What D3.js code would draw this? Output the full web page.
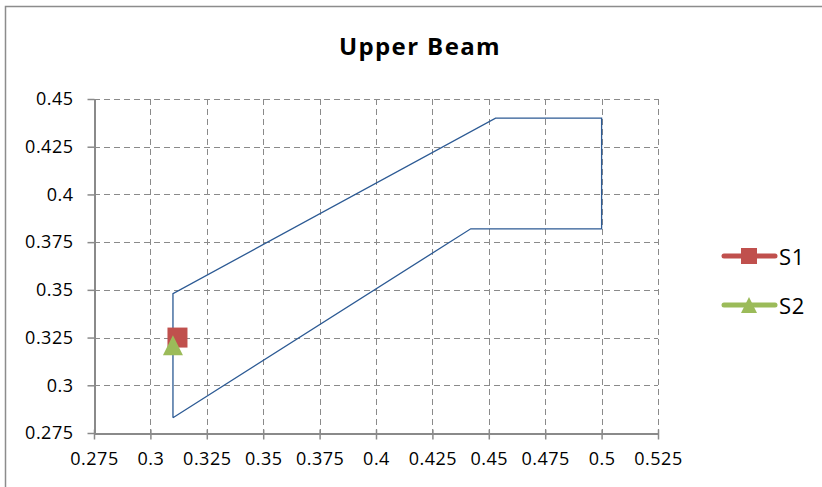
<!DOCTYPE html>
<html><head><meta charset="utf-8">
<script src="https://cdn.jsdelivr.net/npm/d3@7"></script>
<style>html,body{margin:0;padding:0;background:#fff;}svg{display:block;}</style>
</head><body>
<script>
const title = "Upper Beam";
const xTicks = [0.275,0.3,0.325,0.35,0.375,0.4,0.425,0.45,0.475,0.5,0.525];
const yTicks = [0.275,0.3,0.325,0.35,0.375,0.4,0.425,0.45];
// outline of the beam section
const outlineX = [0.31,0.31,0.453,0.5,0.5,0.442,0.31];
const outlineY = [0.283,0.348,0.44,0.44,0.382,0.382,0.283];
const seriesNames = ["S1","S2"];
const seriesX = [[0.312],[0.31]];
const seriesY = [[0.325],[0.321]];
const seriesColors = ["#C0504D","#9BBB59"];
const seriesShapes = ["square","triangle"];

const W=822,H=487;
const svg=d3.select("body").append("svg").attr("width",W).attr("height",H);
svg.append("rect").attr("width",W).attr("height",H).attr("fill","#fff");
// chart frame
svg.append("path").attr("d","M5.5,"+(H+5)+"V6.5H"+(W+5)).attr("fill","none").attr("stroke","#8c8c8c").attr("stroke-width",1.5);

const x=d3.scaleLinear().domain([0.275,0.525]).range([94,658]);
const y=d3.scaleLinear().domain([0.275,0.45]).range([433,99]);
const font="'Open Sans', 'DejaVu Sans', sans-serif";

svg.append("text").attr("x",420).attr("y",55).attr("text-anchor","middle")
  .attr("font-family",font).attr("font-weight","bold").attr("font-size",24)
  .attr("letter-spacing",1.4).text(title);

// gridlines
const grid=svg.append("g").attr("stroke","#8a8a8a").attr("stroke-width",1).attr("stroke-dasharray","6,4");
grid.selectAll("line.v").data(xTicks.slice(1)).enter().append("line")
  .attr("x1",d=>Math.round(x(d))+0.5).attr("x2",d=>Math.round(x(d))+0.5).attr("y1",y(0.45)).attr("y2",y(0.275));
grid.selectAll("line.h").data(yTicks.slice(1)).enter().append("line")
  .attr("y1",d=>Math.round(y(d))+0.5).attr("y2",d=>Math.round(y(d))+0.5).attr("x1",x(0.275)).attr("x2",x(0.525));

// axes
const xAxis=svg.append("g").attr("transform","translate(0,"+(Math.round(y(0.275))+0.5)+")")
  .call(d3.axisBottom(x).tickValues(xTicks).tickSizeInner(6).tickSizeOuter(0).tickPadding(17).tickFormat(d=>String(+d.toFixed(3))));
const yAxis=svg.append("g").attr("transform","translate("+(Math.round(x(0.275))+0.5)+",0)")
  .call(d3.axisLeft(y).tickValues(yTicks).tickSizeInner(7).tickSizeOuter(0).tickPadding(14).tickFormat(d=>String(+d.toFixed(3))));
[xAxis,yAxis].forEach(a=>{
  a.select(".domain").attr("stroke","#8a8a8a").attr("stroke-width",2);
  a.selectAll(".tick line").attr("stroke","#8a8a8a").attr("stroke-width",1.5);
  a.selectAll(".tick text").attr("font-family",font).attr("font-size",18).attr("fill","#000").attr("letter-spacing",0.5);
});
xAxis.selectAll(".tick line").attr("y1",-4);
xAxis.selectAll(".tick text").attr("dy","0.45em");

// outline
const pts=outlineX.map((d,i)=>[x(d),y(outlineY[i])]);
svg.append("path").attr("d",d3.line()(pts)).attr("fill","none").attr("stroke","#2C5A94").attr("stroke-width",1.3);

function marker(g,shape,cx,cy,color,s){
  if(shape==="square"){
    g.append("rect").attr("x",cx-s/2).attr("y",cy-s/2).attr("width",s).attr("height",s).attr("fill",color);
  } else {
    g.append("path").attr("d",`M${cx},${cy-s/2}L${cx+s/2},${cy+s/2}L${cx-s/2},${cy+s/2}Z`).attr("fill",color);
  }
}
seriesNames.forEach((n,i)=>{
  seriesX[i].forEach((v,j)=>marker(svg,seriesShapes[i],x(v),y(seriesY[i][j]),seriesColors[i],20));
});

// legend
const leg=svg.append("g");
seriesNames.forEach((n,i)=>{
  const ly=256+i*49;
  leg.append("line").attr("x1",724).attr("x2",775).attr("y1",ly).attr("y2",ly)
    .attr("stroke",seriesColors[i]).attr("stroke-width",5).attr("stroke-linecap","round");
  marker(leg,seriesShapes[i],749,ly,seriesColors[i],16);
  leg.append("text").attr("x",779).attr("y",ly+9).attr("font-family",font).attr("font-size",22).attr("letter-spacing",0.8).attr("fill","#000").text(n);
});
</script>
</body></html>
